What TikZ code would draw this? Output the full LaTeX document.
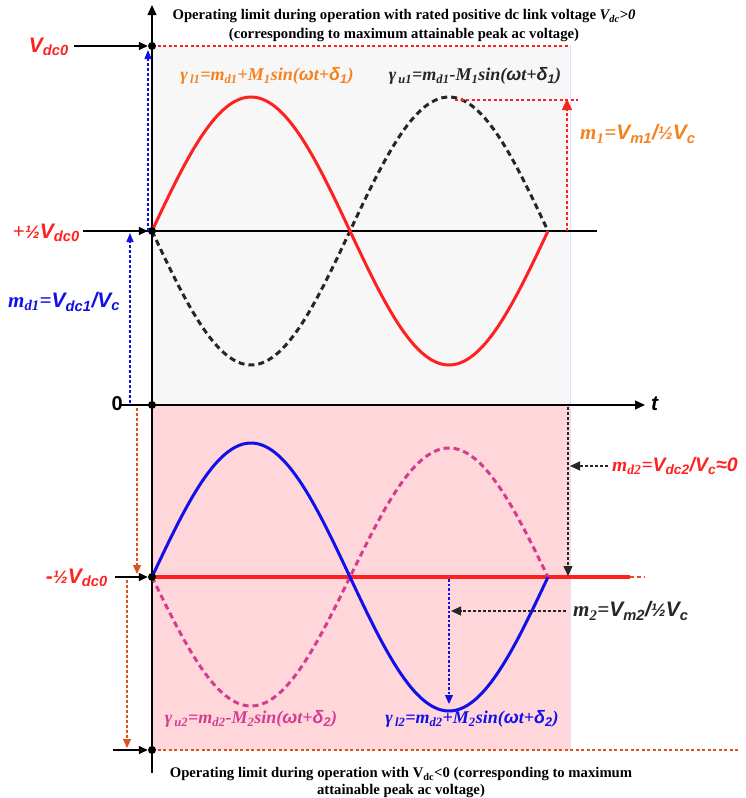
\documentclass[tikz,border=0pt]{standalone}
\usepackage{fontspec}
\setmainfont{Liberation Serif}
\newfontfamily\arialf{Liberation Sans}
\usetikzlibrary{arrows.meta}
\definecolor{myred}{HTML}{FF2020}
\definecolor{myorange}{HTML}{F58220}
\definecolor{myblue}{HTML}{1010E8}
\definecolor{mymag}{HTML}{D43C92}
\definecolor{dkorange}{HTML}{D9541E}
\definecolor{bggrey}{HTML}{F7F7F7}
\definecolor{bgpink}{HTML}{FFD7DA}
\tikzset{
  axisline/.style={line width=1.3pt,black},
  lblarrow/.style={line width=1.4pt,black,-{Triangle[length=9pt,width=8pt]}},
  dotmark/.style={circle,fill=black,inner sep=0pt,minimum size=8pt},
  solidwave/.style={line width=3pt},
  dashwave/.style={line width=3pt,dash pattern=on 6pt off 4pt},
  dimline/.style={line width=1.3pt,dash pattern=on 3pt off 2pt},
  big/.style={font=\arialf\bfseries\itshape\fontsize{21}{23}\selectfont,inner sep=0pt},
  ann/.style={font=\bfseries\itshape\fontsize{21}{23}\selectfont,inner sep=0pt},
  eq/.style={font=\bfseries\itshape\fontsize{18}{20}\selectfont,inner sep=0pt},
  captop/.style={font=\bfseries\fontsize{14.7}{19}\selectfont,align=center},
  capbot/.style={font=\bfseries\fontsize{14.7}{17}\selectfont,align=center},
}
\newcommand{\hlf}{{\fontsize{18}{18}\selectfont ½}}
\begin{document}
\begin{tikzpicture}[x=1pt,y=-1pt]
\useasboundingbox (0,0) rectangle (745,798);
% backgrounds
\fill[bggrey] (152,46) rectangle (570,405);
\fill[bgpink] (152,405) rectangle (570,750);
\draw[blue!12,line width=0.8pt] (570,46) -- (570,750);
% key coordinates
\coordinate (axB) at (152,773);
\coordinate (axT) at (152,5);
\coordinate (tL) at (120,405);
\coordinate (tR) at (645,405);
\coordinate (hL) at (120,231);
\coordinate (hR) at (597,231);
% axes
\draw[axisline,-{Triangle[length=10pt,width=9pt]}] (axB) -- (axT);
\draw[axisline,-{Triangle[length=10pt,width=9pt]}] (tL) -- (tR);
\node[font=\arialf\bfseries\itshape\fontsize{21}{23}\selectfont,anchor=west,inner sep=0pt] (tlab) at (651,404) {t};
\draw[line width=2pt] (hL) -- (hR);
% top dotted limit
\coordinate (topR) at (570,46);
\draw[myred,line width=1.3pt,dash pattern=on 3pt off 2.5pt] (152,46) -- (topR);
% bottom dotted limit
\coordinate (botR) at (740,750);
\draw[dkorange,line width=1.3pt,dash pattern=on 3pt off 2.5pt] (152,750) -- (botR);
% lower red line
\coordinate (rl1) at (630,577);
\coordinate (rl2) at (645,577);
\draw[myred,line width=3.5pt] (152,577) -- (rl1);
\draw[dkorange,line width=1.3pt,dash pattern=on 4pt off 3pt] (rl1) -- (rl2);
% upper waves
\draw[dashwave,black!85] plot[domain=0:396,samples=120] ({152+\x},{231+134*sin(0.9090909*\x)});
\draw[solidwave,myred] plot[domain=0:396,samples=120] ({152+\x},{231-134*sin(0.9090909*\x)});
% lower waves
\draw[dashwave,mymag] plot[domain=0:396,samples=120] ({152+\x},{577+129*sin(0.9090909*\x)});
\draw[solidwave,myblue] plot[domain=0:396,samples=120] ({152+\x},{577-134*sin(0.9090909*\x)});
% dots
\node[dotmark] (dTop) at (152,46) {};
\node[dotmark] (dHalf) at (152,231) {};
\node[dotmark] (dZero) at (152,405) {};
\node[dotmark] (dNeg) at (152,577) {};
\node[dotmark] (dBot) at (152,750) {};
% left labels
\node[big,myred,anchor=east] (lVdc) at (69,47) {V\textsubscript{dc0}};
\coordinate (aV) at (74,46);
\draw[lblarrow] (aV) -- (dTop.west);
\node[big,myred,anchor=east] (lHalf) at (80,233) {{\rmfamily\upshape +}\hlf V\textsubscript{dc0}};
\coordinate (aH) at (83,231);
\draw[lblarrow] (aH) -- (dHalf.west);
\node[font=\arialf\bfseries\fontsize{20}{22}\selectfont,anchor=east,inner sep=0pt] (lZero) at (123,404) {0};
\node[big,myred,anchor=east] (lNeg) at (108,578) {-\hlf V\textsubscript{dc0}};
\coordinate (aN) at (115,577);
\draw[lblarrow] (aN) -- (dNeg.west);
\coordinate (aB) at (113,750);
\draw[lblarrow] (aB) -- (dBot.west);
% blue md1 arrows
\coordinate (b1s) at (148,231);
\coordinate (b1e) at (148,50);
\draw[dimline,myblue,-{Triangle[length=9pt,width=7pt]}] (b1s) -- (b1e);
\coordinate (b2s) at (130,403);
\coordinate (b2e) at (130,233);
\draw[dimline,myblue,-{Triangle[length=9pt,width=7pt]}] (b2s) -- (b2e);
\node[ann,myblue,anchor=west] (lmd1) at (8,302) {m\textsubscript{d1}={\arialf V\textsubscript{dc1}/V\textsubscript{c}}};
% orange arrows left
\coordinate (o1s) at (137,408);
\coordinate (o1e) at (137,574);
\draw[dimline,dkorange,-{Triangle[length=9pt,width=8pt]}] (o1s) -- (o1e);
\coordinate (o2s) at (127,580);
\coordinate (o2e) at (127,748);
\draw[dimline,dkorange,-{Triangle[length=9pt,width=8pt]}] (o2s) -- (o2e);
% m1 annotation
\coordinate (m1h1) at (455,100);
\coordinate (m1h2) at (578,100);
\draw[myred,line width=1.3pt,dash pattern=on 3pt off 2.5pt] (m1h1) -- (m1h2);
\coordinate (m1s) at (567,231);
\coordinate (m1e) at (567,99);
\draw[myred,line width=1.3pt,dash pattern=on 3pt off 2.5pt,-{Triangle[length=11pt,width=10pt]}] (m1s) -- (m1e);
\node[ann,myorange,anchor=west] (lm1) at (580,134) {m\textsubscript{1}={\arialf V\textsubscript{m1}/\hlf V\textsubscript{c}}};
% md2 annotation
\coordinate (d2s) at (568,407);
\coordinate (d2e) at (568,576);
\draw[dimline,black!85,-{Triangle[length=10pt,width=9pt]}] (d2s) -- (d2e);
\node[ann,myred,anchor=west,font=\bfseries\itshape\fontsize{19.5}{21}\selectfont] (lmd2) at (612,466) {m\textsubscript{d2}={\arialf V\textsubscript{dc2}/V\textsubscript{c}≈0}};
\coordinate (d2a) at (570,466);
\coordinate (d2b) at (608,466);
\draw[dimline,black!85,-{Triangle[length=10pt,width=9pt]}] (d2b) -- (d2a);
% m2 annotation
\coordinate (m2s) at (449,579);
\coordinate (m2e) at (449,704);
\draw[line width=1.3pt,dash pattern=on 2.5pt off 2pt,myblue,-{Triangle[length=9pt,width=8pt]}] (m2s) -- (m2e);
\node[ann,black!85,anchor=west] (lm2) at (573,611) {m\textsubscript{2}={\arialf V\textsubscript{m2}/\hlf V\textsubscript{c}}};
\coordinate (m2a) at (451,611);
\coordinate (m2b) at (566,611);
\draw[dimline,black!85,-{Triangle[length=10pt,width=9pt]}] (m2b) -- (m2a);
% wave labels
\node[eq,myorange] (gl1) at (267,76) {γ\textsubscript{\,l1}=m\textsubscript{d1}+M\textsubscript{1}sin({\arialf ω}t+{\arialf δ\textsubscript{1}})};
\node[eq,black!85] (gu1) at (475,76) {γ\textsubscript{\,u1}=m\textsubscript{d1}-M\textsubscript{1}sin({\arialf ω}t+{\arialf δ\textsubscript{1}})};
\node[eq,mymag] (gu2) at (251,719) {γ\textsubscript{\,u2}=m\textsubscript{d2}-M\textsubscript{2}sin({\arialf ω}t+{\arialf δ\textsubscript{2}})};
\node[eq,myblue] (gl2) at (472,719) {γ\textsubscript{\,l2}=m\textsubscript{d2}+M\textsubscript{2}sin({\arialf ω}t+{\arialf δ\textsubscript{2}})};
% captions
\node[captop] (capT) at (404,26) {Operating limit during operation with rated positive dc link voltage \textit{V\textsubscript{dc}>0}\\(corresponding to maximum attainable peak ac voltage)};
\node[capbot] (capB) at (401,783) {Operating limit during operation with V\textsubscript{dc}<0 (corresponding to maximum\\attainable peak ac voltage)};
\end{tikzpicture}
\end{document}
